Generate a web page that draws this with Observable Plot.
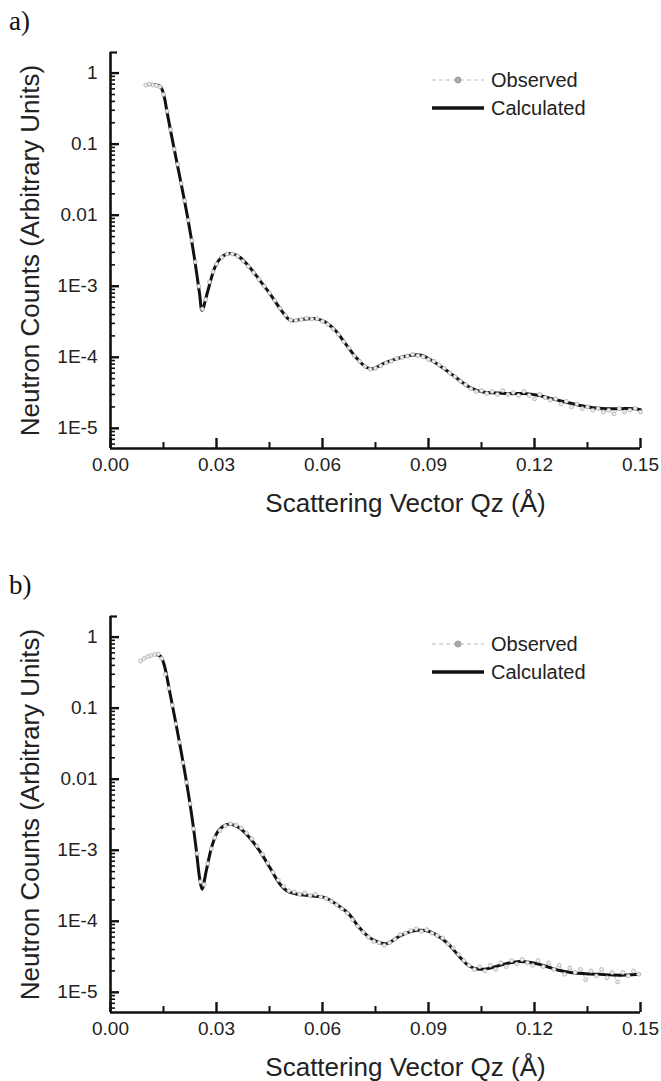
<!DOCTYPE html>
<html><head><meta charset="utf-8">
<script src="https://cdn.jsdelivr.net/npm/d3@7"></script>
<script src="https://cdn.jsdelivr.net/npm/@observablehq/plot@0.6"></script>
<style>
body{margin:0;background:#fff;}
#wrap{position:relative;width:661px;height:1081px;overflow:hidden;background:#fff;font-family:"Liberation Sans",Arial,sans-serif;}
.panel{position:absolute;left:0;width:661px;height:530px;}
.tag{position:absolute;left:9px;top:8px;font-family:"Liberation Serif","Times New Roman",serif;font-size:27px;color:#111;line-height:1;}
.legend{position:absolute;left:430px;top:66px;font-size:20px;color:#222;line-height:28px;}
.legend div{display:flex;align-items:center;height:28px;}
.legend svg{margin-right:5px;}
</style></head>
<body><div id="wrap"></div>
<script>
// ---------- data ----------
const xTicksMajor = [0, 0.03, 0.06, 0.09, 0.12, 0.15];
const xTicksMinor = [0.015, 0.045, 0.075, 0.105, 0.135];
const yTicksMajor = [1e-5, 1e-4, 1e-3, 0.01, 0.1, 1];
const yTickLabels = ["1E-5", "1E-4", "1E-3", "0.01", "0.1", "1"];
const xDomain = [0, 0.15];
const yDomain = [5.2e-6, 1.95];
const xTitle = "Scattering Vector Qz (Å)";
const yTitle = "Neutron Counts (Arbitrary Units)";
const seriesNames = ["Observed", "Calculated"];
const panelTags = ["a)", "b)"];

// panel a
const calcAx = [0.0106,0.0140,0.0152,0.0159,0.0179,0.0198,0.0218,0.0237,0.0252,0.0259,0.0276,0.0296,0.0315,0.0339,0.0364,0.0393,0.0422,0.0451,0.0480,0.0509,0.0539,0.0577,0.0607,0.0636,0.0665,0.0694,0.0723,0.0743,0.0772,0.0811,0.0850,0.0879,0.0908,0.0937,0.0976,0.1015,0.1054,0.1093,0.1132,0.1170,0.1209,0.1248,0.1287,0.1326,0.1365,0.1404,0.1443,0.1482,0.1500];
const calcAy = [0.692,0.656,0.465,0.301,0.0916,0.0311,0.00948,0.00259,7.89e-4,4.59e-4,8.79e-4,1.87e-3,2.59e-3,2.88e-3,2.59e-3,1.87e-3,1.22e-3,7.89e-4,4.84e-4,3.32e-4,3.40e-4,3.51e-4,3.15e-4,2.40e-4,1.56e-4,1.01e-4,7.31e-5,6.92e-5,8.15e-5,9.57e-5,1.07e-4,1.07e-4,9.08e-5,7.31e-5,5.28e-5,3.82e-5,3.25e-5,3.15e-5,3.08e-5,3.08e-5,2.92e-5,2.62e-5,2.35e-5,2.11e-5,1.95e-5,1.89e-5,1.89e-5,1.89e-5,1.83e-5];
const obsAx = [0.0100,0.0110,0.0120,0.0130,0.0140,0.0150,0.0160,0.0170,0.0180,0.0190,0.0200,0.0210,0.0220,0.0230,0.0240,0.0250,0.0260,0.0270,0.0280,0.0290,0.0300,0.0315,0.0330,0.0345,0.0360,0.0375,0.0390,0.0405,0.0420,0.0435,0.0450,0.0465,0.0480,0.0495,0.0510,0.0525,0.0540,0.0555,0.0570,0.0585,0.0600,0.0615,0.0630,0.0645,0.0660,0.0675,0.0690,0.0705,0.0720,0.0735,0.0750,0.0765,0.0780,0.0795,0.0810,0.0825,0.0840,0.0855,0.0870,0.0885,0.0900,0.0915,0.0930,0.0945,0.0960,0.0975,0.0990,0.1005,0.1020,0.1035,0.1050,0.1065,0.1080,0.1095,0.1110,0.1125,0.1140,0.1155,0.1170,0.1185,0.1200,0.1215,0.1230,0.1245,0.1260,0.1275,0.1290,0.1305,0.1320,0.1335,0.1350,0.1365,0.1380,0.1395,0.1410,0.1425,0.1440,0.1455,0.1470,0.1485,0.1500];
const obsAy = [0.68,0.70,0.68,0.67,0.64,0.50,0.29,0.16,0.085,0.052,0.028,0.016,0.0085,0.0044,0.0022,0.0010,4.8e-4,6.5e-4,1.15e-3,1.6e-3,2.05e-3,2.55e-3,2.85e-3,2.85e-3,2.65e-3,2.25e-3,1.9e-3,1.55e-3,1.25e-3,1.0e-3,8.0e-4,6.3e-4,4.9e-4,3.9e-4,3.35e-4,3.3e-4,3.4e-4,3.55e-4,3.45e-4,3.5e-4,3.2e-4,2.9e-4,2.5e-4,2.1e-4,1.65e-4,1.35e-4,1.05e-4,8.8e-5,7.5e-5,6.8e-5,7.0e-5,7.6e-5,8.3e-5,8.8e-5,9.6e-5,1.0e-4,1.04e-4,1.1e-4,1.05e-4,1.02e-4,9.3e-5,8.8e-5,7.8e-5,7.0e-5,6.0e-5,5.3e-5,4.6e-5,4.1e-5,3.6e-5,3.3e-5,3.4e-5,3.1e-5,3.3e-5,3.0e-5,3.4e-5,3.0e-5,3.2e-5,2.9e-5,3.3e-5,2.9e-5,2.6e-5,3.0e-5,2.7e-5,2.5e-5,2.6e-5,2.2e-5,2.4e-5,2.0e-5,2.2e-5,1.9e-5,2.0e-5,1.8e-5,1.9e-5,1.7e-5,1.8e-5,1.6e-5,1.9e-5,1.7e-5,1.8e-5,1.9e-5,1.7e-5];

// panel b
const calcBx = [0.0130,0.0140,0.0150,0.0169,0.0189,0.0208,0.0228,0.0242,0.0252,0.0259,0.0271,0.0286,0.0305,0.0334,0.0364,0.0393,0.0422,0.0451,0.0480,0.0500,0.0529,0.0568,0.0607,0.0646,0.0675,0.0704,0.0733,0.0762,0.0782,0.0811,0.0840,0.0869,0.0898,0.0927,0.0957,0.0986,0.1015,0.1044,0.1073,0.1112,0.1151,0.1190,0.1229,0.1268,0.1307,0.1345,0.1384,0.1423,0.1462,0.1496];
const calcBy = [0.564,0.546,0.440,0.157,0.0480,0.0146,0.00358,1.09e-3,4.12e-4,2.82e-4,5.12e-4,1.09e-3,1.87e-3,2.32e-3,2.08e-3,1.51e-3,9.79e-4,5.70e-4,3.32e-4,2.67e-4,2.40e-4,2.28e-4,2.15e-4,1.64e-4,1.26e-4,8.15e-5,5.89e-5,5.01e-5,4.85e-5,5.89e-5,6.92e-5,7.46e-5,7.31e-5,6.21e-5,4.74e-5,3.25e-5,2.35e-5,2.11e-5,2.18e-5,2.48e-5,2.70e-5,2.62e-5,2.35e-5,2.04e-5,1.89e-5,1.83e-5,1.79e-5,1.75e-5,1.75e-5,1.79e-5];
const obsBx = [0.0085,0.0095,0.0105,0.0115,0.0125,0.0135,0.0145,0.0155,0.0165,0.0175,0.0185,0.0195,0.0205,0.0215,0.0225,0.0235,0.0245,0.0255,0.0265,0.0275,0.0285,0.0295,0.0310,0.0325,0.0340,0.0355,0.0370,0.0385,0.0400,0.0415,0.0430,0.0445,0.0460,0.0475,0.0490,0.0505,0.0520,0.0535,0.0550,0.0565,0.0580,0.0595,0.0610,0.0625,0.0640,0.0655,0.0670,0.0685,0.0700,0.0715,0.0730,0.0745,0.0760,0.0775,0.0790,0.0805,0.0820,0.0835,0.0850,0.0865,0.0880,0.0895,0.0910,0.0925,0.0940,0.0955,0.0970,0.0985,0.1000,0.1015,0.1030,0.1045,0.1060,0.1075,0.1090,0.1105,0.1120,0.1135,0.1150,0.1165,0.1180,0.1195,0.1210,0.1225,0.1240,0.1255,0.1270,0.1285,0.1300,0.1315,0.1330,0.1345,0.1360,0.1375,0.1390,0.1405,0.1420,0.1435,0.1450,0.1465,0.1480,0.1495];
const obsBy = [0.46,0.50,0.53,0.55,0.57,0.58,0.50,0.30,0.19,0.11,0.060,0.033,0.017,0.0090,0.0045,0.0020,0.0009,3.6e-4,3.3e-4,6.5e-4,1.05e-3,1.5e-3,1.9e-3,2.2e-3,2.35e-3,2.25e-3,2.05e-3,1.75e-3,1.45e-3,1.15e-3,8.8e-4,6.6e-4,4.9e-4,3.8e-4,3.1e-4,2.7e-4,2.6e-4,2.4e-4,2.5e-4,2.3e-4,2.4e-4,2.2e-4,2.1e-4,1.9e-4,1.7e-4,1.5e-4,1.3e-4,1.05e-4,8.5e-5,7.0e-5,6.0e-5,5.2e-5,5.0e-5,4.6e-5,5.0e-5,5.6e-5,6.5e-5,6.8e-5,7.4e-5,7.8e-5,7.2e-5,7.6e-5,6.8e-5,6.3e-5,5.8e-5,4.8e-5,4.2e-5,3.4e-5,2.8e-5,2.4e-5,2.1e-5,2.3e-5,2.0e-5,2.4e-5,2.1e-5,2.6e-5,2.3e-5,2.8e-5,2.5e-5,2.9e-5,2.6e-5,2.4e-5,2.8e-5,2.3e-5,2.6e-5,2.1e-5,2.4e-5,1.8e-5,2.2e-5,1.9e-5,2.1e-5,1.5e-5,2.0e-5,1.7e-5,2.1e-5,1.6e-5,1.9e-5,1.4e-5,1.9e-5,1.7e-5,2.0e-5,1.8e-5];

// ---------- drawing ----------
const FONT = "'Liberation Sans', Arial, sans-serif";
const W = 661, H = 530, ML = 110, MR = 21, MT = 52, MB = 82;
const FW = W - ML - MR, FH = H - MT - MB;
const yMinor = [];
for (const m of [1e-6, ...yTicksMajor]) for (let k = 2; k <= 9; k++) {
  const v = m * k; if (v > yDomain[0] && v < yDomain[1]) yMinor.push(v);
}
const fmtY = d => yTickLabels[yTicksMajor.indexOf(d)];

// inward tick marks: short ticks kept at the frame edge by insets
const yTicksIn = (ticks, size, sw) => Plot.tickY(ticks, {y: d => d, insetRight: FW - size, stroke: "#111", strokeWidth: sw});
const xTicksIn = (ticks, size, sw) => Plot.tickX(ticks, {x: d => d, insetTop: FH - size, stroke: "#111", strokeWidth: sw});

function makePlot(cx, cy, ox, oy) {
  const calc = cx.map((x, i) => ({x, y: cy[i]}));
  const obs = ox.map((x, i) => ({x, y: oy[i]}));
  return Plot.plot({
    width: W, height: H,
    marginLeft: ML, marginRight: MR, marginTop: MT, marginBottom: MB,
    style: {fontFamily: FONT, fontSize: "19px", color: "#222", background: "transparent", overflow: "visible"},
    x: {domain: xDomain, label: null},
    y: {type: "log", domain: yDomain, label: null},
    marks: [
      Plot.line(obs, {x: "x", y: "y", stroke: "#b8b8b8", strokeWidth: 1, strokeDasharray: "3,3"}),
      Plot.line(calc, {x: "x", y: "y", stroke: "#111", strokeWidth: 3, curve: "catmull-rom"}),
      Plot.dot(obs, {x: "x", y: "y", r: 2, fill: "#ececec", stroke: "#a8a8a8", strokeWidth: 0.7}),
      yTicksIn(yMinor, 5, 1.6),
      yTicksIn([yDomain[1]], 7, 2.2),
      yTicksIn(yTicksMajor, 9, 2.4),
      Plot.axisY({ticks: yTicksMajor, tickSize: 0, tickPadding: 13, tickFormat: fmtY, label: null, fill: "#222", fontSize: 19}),
      xTicksIn(xTicksMinor, 6, 2),
      xTicksIn(xTicksMajor, 10, 2.4),
      Plot.axisX({ticks: xTicksMajor, tickSize: 0, tickPadding: 9, tickFormat: d3.format(".2f"), label: null, fill: "#222", fontSize: 19}),
      Plot.ruleX([xDomain[0]], {stroke: "#111", strokeWidth: 2.6}),
      Plot.ruleY([yDomain[0]], {stroke: "#111", strokeWidth: 2.6}),
      Plot.text([yTitle], {text: d => d, frameAnchor: "left", textAnchor: "middle", lineAnchor: "middle", dx: -80, rotate: -90, fontSize: 26, fill: "#222"}),
      Plot.text([xTitle], {text: d => d, frameAnchor: "bottom", textAnchor: "middle", lineAnchor: "middle", dx: 30, dy: 55, fontSize: 26, fill: "#222"})
    ]
  });
}

function legendHTML() {
  const obsSw = `<svg width="56" height="12"><line x1="2" y1="6" x2="54" y2="6" stroke="#bbb" stroke-width="1.2" stroke-dasharray="4,3"/><circle cx="28" cy="6" r="3" fill="#aaa" stroke="#999"/></svg>`;
  const calSw = `<svg width="56" height="12"><line x1="2" y1="6" x2="54" y2="6" stroke="#111" stroke-width="3.5"/></svg>`;
  return `<div>${obsSw}<span>${seriesNames[0]}</span></div><div>${calSw}<span>${seriesNames[1]}</span></div>`;
}

const wrap = document.getElementById("wrap");
const panels = [[calcAx, calcAy, obsAx, obsAy], [calcBx, calcBy, obsBx, obsBy]];
const tops = [0, 564];
panels.forEach((p, i) => {
  const div = document.createElement("div");
  div.className = "panel";
  div.style.top = tops[i] + "px";
  div.appendChild(makePlot(...p));
  const tag = document.createElement("div");
  tag.className = "tag"; tag.textContent = panelTags[i];
  div.appendChild(tag);
  const leg = document.createElement("div");
  leg.className = "legend"; leg.innerHTML = legendHTML();
  div.appendChild(leg);
  wrap.appendChild(div);
});
</script></body></html>
